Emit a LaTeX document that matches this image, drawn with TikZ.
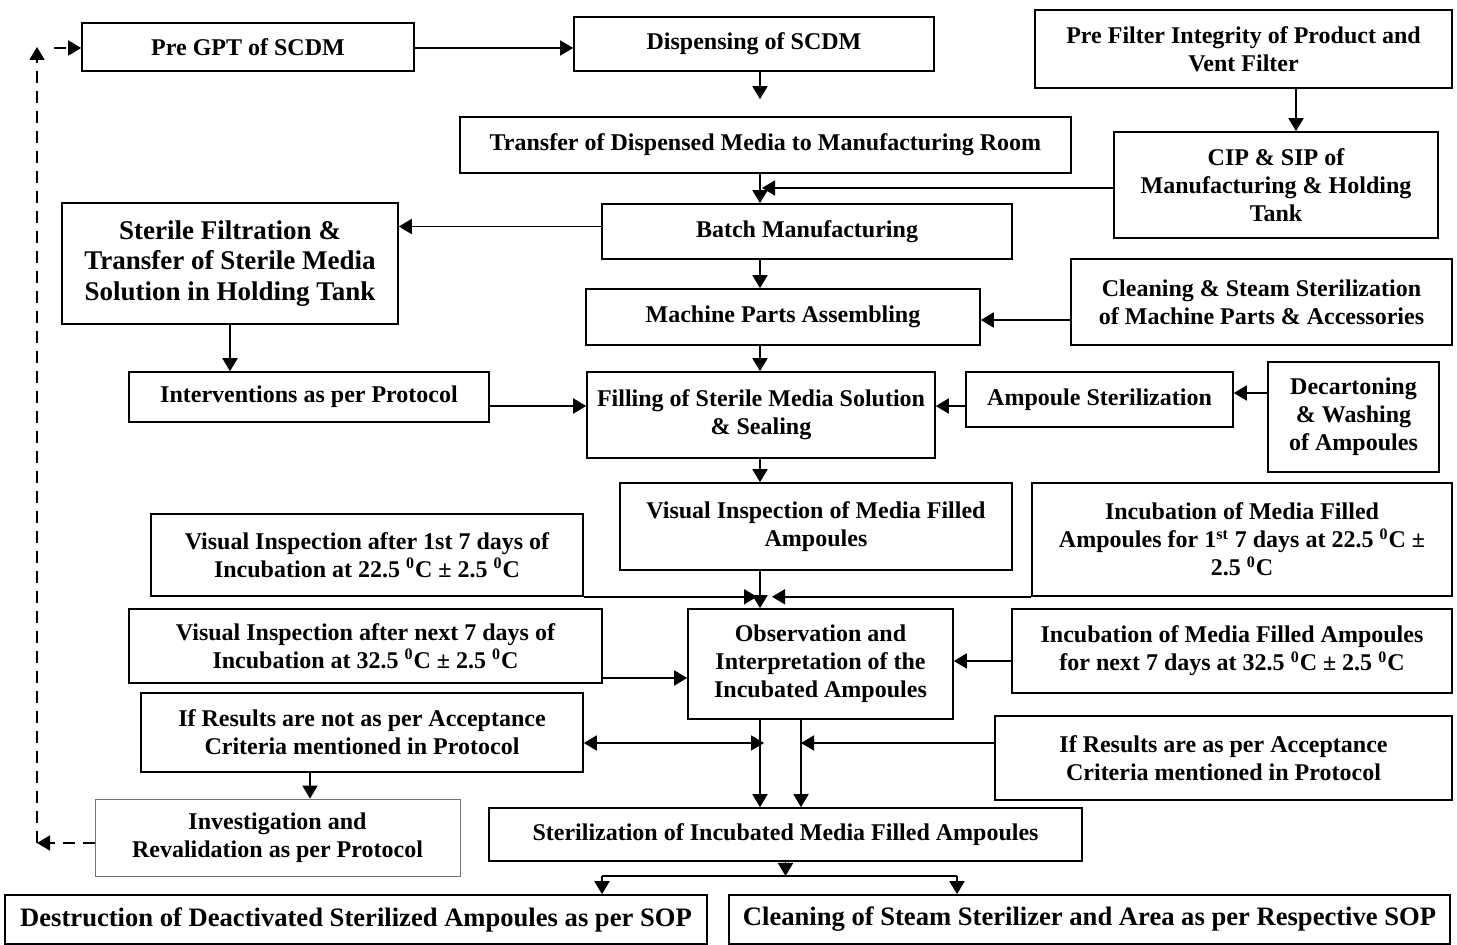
\documentclass[tikz,border=0pt]{standalone}
\usepackage{fontspec}
\setmainfont{Liberation Serif}
\usetikzlibrary{arrows.meta}

\tikzset{
  caja/.style={draw, line width=0.8pt, align=center, inner sep=0pt,
    font=\bfseries\fontsize{12}{14}\selectfont},
  flecha/.style={line width=0.9pt, -{Triangle[length=6.5pt,width=7.5pt]}},
  discont/.style={dash pattern=on 6pt off 4pt}
}

\begin{document}
\begin{tikzpicture}[x=0.5pt, y=-0.5pt]
  \useasboundingbox (0,0) rectangle (1457,945);

  % Cajas de la parte superior
  \node[caja, minimum width=166pt, minimum height=24pt] (pregpt) at (248,47) {Pre GPT of SCDM};
  \node[caja, minimum width=180pt, minimum height=27pt] (disp) at (754,44) {Dispensing of SCDM};
  \node[caja, minimum width=208.5pt, minimum height=39pt] (prefilter) at (1243.5,49) {Pre Filter Integrity of Product and\\Vent Filter};
  \node[caja, minimum width=305.5pt, minimum height=28pt] (transfer) at (765.5,145) {Transfer of Dispensed Media to Manufacturing Room};
  \node[caja, minimum width=162pt, minimum height=53pt] (cip) at (1276,185) {CIP \& SIP of\\Manufacturing \& Holding\\Tank};
  \node[caja, minimum width=168pt, minimum height=60.5pt, font=\bfseries\fontsize{13.5}{15.25}\selectfont] (sterile) at (230,263.5) {Sterile Filtration \&\\Transfer of Sterile Media\\Solution in Holding Tank};
  \node[caja, minimum width=205pt, minimum height=27.5pt] (batch) at (807,231.5) {Batch Manufacturing};
  \node[caja, minimum width=190.5pt, minimum height=43pt] (cleaning) at (1261.5,302) {Cleaning \& Steam Sterilization\\of Machine Parts \& Accessories};
  \node[caja, minimum width=197pt, minimum height=28pt] (machine) at (783,317) {Machine Parts Assembling};

  % Llenado
  \node[caja, minimum width=180pt, minimum height=25pt] (interv) at (309,397) {Interventions as per Protocol};
  \node[caja, minimum width=174pt, minimum height=43pt] (filling) at (761,415) {Filling of Sterile Media Solution\\\& Sealing};
  \node[caja, minimum width=133.5pt, minimum height=27.5pt] (ampster) at (1099.5,399.5) {Ampoule Sterilization};
  \node[caja, minimum width=85.5pt, minimum height=55pt] (decart) at (1353.5,417) {Decartoning\\\& Washing\\of Ampoules};

  % Inspeccion e incubacion
  \node[caja, minimum width=196pt, minimum height=43.5pt] (vimedia) at (816,526.5) {Visual Inspection of Media Filled\\Ampoules};
  \node[caja, minimum width=210pt, minimum height=56.5pt] (incub1) at (1242,539.5) {Incubation of Media Filled\\Ampoules for 1\textsuperscript{st} 7 days at 22.5 \textsuperscript{0}C ±\\2.5 \textsuperscript{0}C};
  \node[caja, minimum width=216pt, minimum height=41pt] (vi1) at (367,555) {Visual Inspection after 1st 7 days of\\Incubation at 22.5 \textsuperscript{0}C ± 2.5 \textsuperscript{0}C};
  \node[caja, minimum width=236.5pt, minimum height=37pt] (vi2) at (365.5,646) {Visual Inspection after next 7 days of\\Incubation at 32.5 \textsuperscript{0}C ± 2.5 \textsuperscript{0}C};
  \node[caja, minimum width=132.5pt, minimum height=55pt] (observ) at (820.5,664) {Observation and\\Interpretation of the\\Incubated Ampoules};
  \node[caja, minimum width=220pt, minimum height=42pt] (incub2) at (1232,651) {Incubation of Media Filled Ampoules\\for next 7 days at 32.5 \textsuperscript{0}C ± 2.5 \textsuperscript{0}C};

  % Resultados
  \node[caja, minimum width=221pt, minimum height=39.5pt] (ifnot) at (362,732.5) {If Results are not as per Acceptance\\Criteria mentioned in Protocol};
  \node[caja, minimum width=228.5pt, minimum height=42pt] (ifare) at (1223.5,758) {If Results are as per Acceptance\\Criteria mentioned in Protocol};
  \node[caja, minimum width=182.5pt, minimum height=38.5pt, draw=black!55, line width=0.4pt] (invest) at (277.5,837.5) {Investigation and\\Revalidation as per Protocol};
  \node[caja, minimum width=296.5pt, minimum height=26.5pt] (steriliz) at (785.5,834.5) {Sterilization of Incubated Media Filled Ampoules};
  \node[caja, minimum width=351pt, minimum height=24.5pt, font=\bfseries\fontsize{13.3}{15}\selectfont] (destr) at (356,919.5) {Destruction of Deactivated Sterilized Ampoules as per SOP};
  \node[caja, minimum width=360.5pt, minimum height=24.5pt, font=\bfseries\fontsize{13.3}{15}\selectfont] (cleansteam) at (1089.5,919.5) {Cleaning of Steam Sterilizer and Area as per Respective SOP};

  % Ejes verticales y esquinas
  \coordinate (eje) at (760,0);
  \coordinate (eje2) at (801,0);
  \coordinate (esq1) at (37,843);
  \coordinate (esq2) at (37,47);
  \coordinate (ramaI) at (602,876);
  \coordinate (ramaD) at (957,876);

  % Flechas principales
  \draw[flecha] (pregpt.east |- 0,48) -- (disp.west |- 0,48);
  \draw[flecha, shorten >=8.5pt] (eje |- disp.south) -- (eje |- transfer.north);
  \draw[flecha] (prefilter.south -| 1296,0) -- (cip.north -| 1296,0);
  \draw[flecha] (eje |- transfer.south) -- (eje |- batch.north);
  \draw[flecha] ([yshift=-1.5pt]cip.west) -- ([xshift=1pt,yshift=-1.5pt]eje |- cip.west);
  \draw[flecha] ([yshift=2.5pt]batch.west) -- ([yshift=2.5pt]batch.west -| sterile.east);
  \draw[flecha] (eje |- batch.south) -- (eje |- machine.north);
  \draw[flecha] ([yshift=-1.5pt]cleaning.west |- machine.east) -- ([yshift=-1.5pt]machine.east);
  \draw[flecha] (sterile.south) -- (sterile.south |- interv.north);
  \draw[flecha] ([yshift=-4.5pt]interv.east) -- ([yshift=-4.5pt]interv.east -| filling.west);
  \draw[flecha] ([yshift=-3.25pt]ampster.west) -- ([yshift=-3.25pt]ampster.west -| filling.east);
  \draw[flecha] ([yshift=3.25pt]decart.west |- ampster.east) -- ([yshift=3.25pt]ampster.east);
  \draw[flecha] (eje |- machine.south) -- (eje |- filling.north);
  \draw[flecha] (eje |- filling.south) -- (eje |- vimedia.north);
  \draw[flecha] (eje |- vimedia.south) -- (eje |- observ.north);

  % Incubacion hacia observacion
  \draw[flecha] (vi1.south east) -- ([xshift=-1.5pt]eje |- vi1.south east);
  \draw[flecha] (incub1.south west) -- ([xshift=6pt]eje |- incub1.south west);
  \draw[flecha] ([yshift=-16pt]vi2.east) -- ([yshift=-16pt]vi2.east -| observ.west);
  \draw[flecha] ([yshift=-5pt]incub2.west) -- ([yshift=-5pt]incub2.west -| observ.east);

  % Resultados
  \draw[flecha] (eje |- observ.south) -- (eje |- steriliz.north);
  \draw[flecha] (eje2 |- observ.south) -- (eje2 |- steriliz.north);
  \draw[line width=0.9pt, {Triangle[length=6.5pt,width=7.5pt]}-{Triangle[length=6.5pt,width=7.5pt]}]
    ([yshift=-5.25pt]ifnot.east) -- ([xshift=2pt,yshift=-5.25pt]eje |- ifnot.east);
  \draw[flecha] ([yshift=7.5pt]ifare.west) -- ([yshift=7.5pt]eje2 |- ifare.west);
  \draw[flecha] ([xshift=-26pt]ifnot.south) -- ([xshift=-26pt]ifnot.south |- invest.north);

  % Revalidacion (linea discontinua)
  \draw[flecha, discont] (invest.west |- esq1) -- (esq1);
  \draw[flecha, discont] (esq1) -- (esq2);
  \draw[flecha, discont, shorten <=8.5pt] (esq2 |- 0,48) -- (pregpt.west |- 0,48);

  % Destino final
  \draw[flecha] (steriliz.south) -- (steriliz.south |- ramaI);
  \draw[line width=0.9pt] (ramaI) -- (ramaD);
  \draw[flecha] (ramaI) -- (ramaI |- destr.north);
  \draw[flecha] (ramaD) -- (ramaD |- cleansteam.north);
\end{tikzpicture}
\end{document}
